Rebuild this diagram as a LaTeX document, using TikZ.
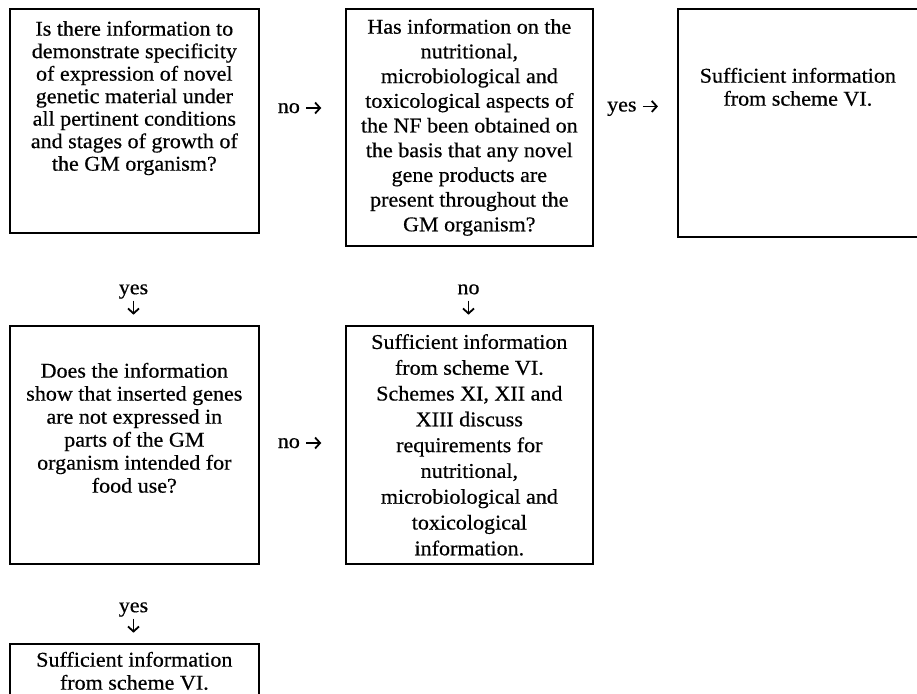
\documentclass[tikz,border=0pt]{standalone}
\usepackage{fontspec}
\usetikzlibrary{arrows.meta}
\setmainfont{Liberation Serif}[FakeStretch=1.05,FakeBold=0.5]
% small heavy arrows set inline with the yes/no words
\tikzset{glypharrow/.style={line width=1.8pt,
  -{Straight Barb[length=5pt,width=11pt,line width=1.8pt]}}}
\newcommand{\ra}{\tikz[baseline=-5pt,x=1pt,y=1pt]\draw[glypharrow] (0,0) -- (15,0);}
\newcommand{\da}{\tikz[baseline=-1pt,x=1pt,y=1pt]\draw[glypharrow] (0,14) -- (0,0);}
\begin{document}
\begin{tikzpicture}[x=1pt,y=-1pt,
  every node/.style={font=\fontsize{21}{23.5}\selectfont},
  qbox/.style={draw, line width=1.7pt, inner sep=0pt, anchor=north west},
  lab/.style={align=center, inner sep=0pt}]
\useasboundingbox (0,0) rectangle (917,693);
\clip (0,0) rectangle (917,693);

% \boxpar{width}{height}{vertical position}{top space}{line spacing}{lines}
\newcommand{\boxpar}[6]{\parbox[c][#2pt][#3]{#1pt}{\fontsize{21}{#5}\selectfont
  \centering\vspace*{#4pt}#6\par}}

% first row
\node[qbox] (a) at (9,8) {\boxpar{249}{224}{t}{12}{22.5}{Is there information to\\
  demonstrate specificity\\ of expression of novel\\ genetic material under\\
  all pertinent conditions\\ and stages of growth of\\ the GM organism?}};
\node[qbox] (b) at (345,8) {\boxpar{247}{237}{c}{0}{24.7}{Has information on the\\
  nutritional,\\ microbiological and\\ toxicological aspects of\\
  the NF been obtained on\\ the basis that any novel\\ gene products are\\
  present throughout the\\ GM organism?}};
\node[qbox] (c) at (677,8) {\boxpar{240}{228}{t}{59}{23}{Sufficient information\\ from scheme VI.}};

% second row
\node[qbox] (d) at (9,325) {\boxpar{249}{238}{t}{37}{23}{Does the information\\
  show that inserted genes\\ are not expressed in\\ parts of the GM\\
  organism intended for\\ food use?}};
\node[qbox] (e) at (345,325) {\boxpar{247}{238}{c}{0}{25.8}{Sufficient information\\
  from scheme VI.\\ Schemes XI, XII and\\ XIII discuss\\ requirements for\\
  nutritional,\\ microbiological and\\ toxicological\\ information.}};

% third row
\node[qbox] (f) at (9,643) {\boxpar{249}{70}{t}{8}{23}{Sufficient information\\ from scheme VI.}};

% decision labels between the boxes
\node[lab] (ab) at (300,108) {no \ra};
\node[lab] (bc) at (633,108) {yes \ra};
\node[lab] (ad) at (133.5,300) {yes\\[-2pt] \da};
\node[lab] (be) at (468.5,300) {no\\[-2pt] \da};
\node[lab] (de) at (300,443) {no \ra};
\node[lab] (df) at (133.5,618) {yes\\[-2pt] \da};
\end{tikzpicture}
\end{document}
